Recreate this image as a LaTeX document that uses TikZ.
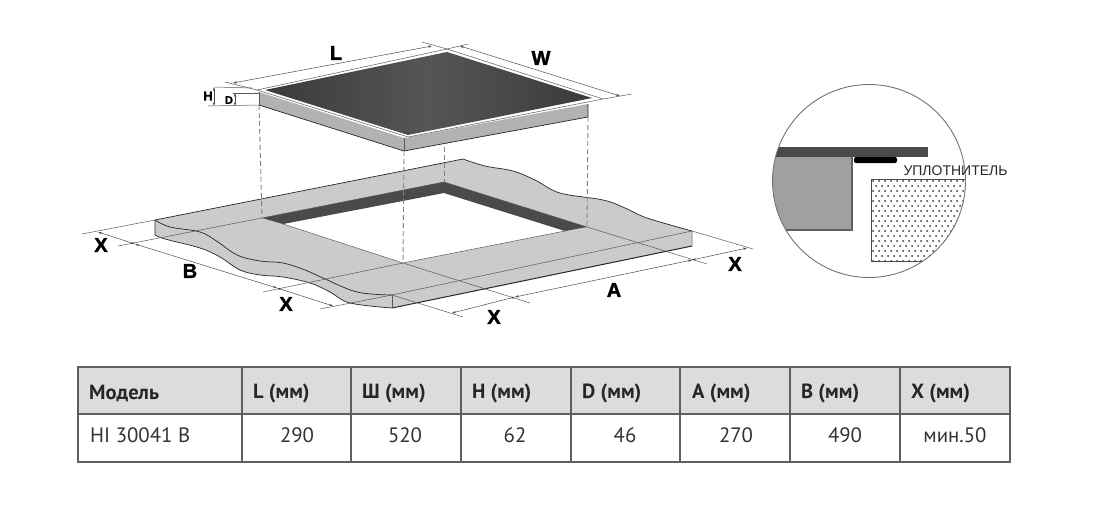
\documentclass[tikz,border=0pt]{standalone}
\usepackage{fontspec}
\setmainfont{PT Sans}
\newfontfamily\drawfont{Liberation Sans}
\newfontfamily\heavyfont[BoldFeatures={FakeBold=1.6}]{Liberation Sans}
\usetikzlibrary{arrows.meta}
\definecolor{glass}{HTML}{3A3A3A}
\definecolor{glassmid}{HTML}{555555}
\definecolor{slab}{HTML}{CBCBCB}
\definecolor{body}{HTML}{B2B2B2}
\definecolor{band}{HTML}{4A4A4A}
\definecolor{rule}{HTML}{5F5F5F}
\definecolor{head}{HTML}{DADDDC}
\tikzset{
edge/.style={draw=black!85, line width=.7pt},
thin edge/.style={draw=black!65, line width=.5pt},
dimline/.style={draw=black!70, line width=.5pt, {Stealth[length=4pt,width=2.4pt]}-{Stealth[length=4pt,width=2.4pt]}},
guide/.style={draw=black!50, line width=.9pt, dash pattern=on 5pt off 3pt},
letter/.style={font=\heavyfont\bfseries\fontsize{20}{20}\selectfont, inner sep=0pt},
small letter/.style={font=\heavyfont\bfseries\fontsize{13}{13}\selectfont, inner sep=0pt},
headcell/.style={font=\bfseries\fontsize{20.5}{20.5}\selectfont, text=black!85, anchor=west, inner sep=0pt},
datacell/.style={font=\fontsize{20.8}{20.8}\selectfont, text=black!80, inner sep=0pt}
}

\begin{document}
\begin{tikzpicture}[x=1pt, y=-1pt]
	\useasboundingbox (0,0) rectangle (1113,527);
	% hob corners
	\coordinate (gl) at (257,90);
	\coordinate (gt) at (447,49);
	\coordinate (gr) at (603,99);
	\coordinate (gb) at (408,137);
	% hole corners
	\coordinate (hl) at (262,218);
	\coordinate (ht) at (444,182);
	\coordinate (hr) at (587,227);
	\coordinate (hb) at (403,263);
	\coordinate (il) at (283,224);
	\coordinate (it) at (444,193);
	\coordinate (ir) at (565,231);
	% slab corners
	\coordinate (sl) at (155,220);
	\coordinate (st) at (463,159);
	\coordinate (sr) at (692,231);
	\coordinate (sf) at (392,295);
	\coordinate (sfl) at (392,308);
	\coordinate (srl) at (692,246);
	\coordinate (sll) at (155,235);

	% slab
	\fill[slab] (sl) -- (st)
		-- plot[smooth, tension=.6] coordinates {(463,159) (485,166) (513,171) (535,180) (560,193) (603,200) (625,208) (647,218) (692,231)}
		-- (srl) -- (sfl)
		-- plot[smooth, tension=.6] coordinates {(392,308) (350,303) (330,292) (310,283) (283,277) (260,275) (240,270) (220,257) (200,248) (165,239) (155,235)}
		-- cycle;
	\draw[edge] plot[smooth, tension=.6] coordinates {(155,220) (170,227) (200,232) (218,242) (237,255) (260,261) (283,263) (305,270) (323,278) (357,292) (392,295)};
	\draw[edge] plot[smooth, tension=.6] coordinates {(155,235) (165,239) (200,248) (220,257) (240,270) (260,275) (283,277) (310,283) (330,292) (350,303) (392,308)};
	\draw[edge] plot[smooth, tension=.6] coordinates {(463,159) (485,166) (513,171) (535,180) (560,193) (603,200) (625,208) (647,218) (692,231)};
	\draw[edge] (sll) -- (sl) -- (st);
	\draw[thin edge] (sf) -- (sr) -- (srl);
	\draw[edge, line width=1pt] (sfl) -- (srl);
	\draw[thin edge] (sf) -- (sfl);

	% hole
	\fill[white] (il) -- (it) -- (ir) -- (hb) -- cycle;
	\fill[band] (hl) -- (ht) -- (hr) -- (ir) -- (it) -- (il) -- cycle;
	\draw[thin edge] (il) -- (hb) -- (ir);
	\draw[thin edge] (hl) -- (ht) -- (hr);

	% hob
	\coordinate (bl) at (259,92);
	\coordinate (bb) at (404,138);
	\coordinate (br) at (588,104);
	\coordinate (bll) at (259,105);
	\coordinate (bbl) at (404,151);
	\coordinate (brl) at (588,117);
	\fill[body] (bl) -- (bb) -- (br) -- (brl) -- (bbl) -- (bll) -- cycle;
	\draw[edge] (bll) -- (bbl) -- (brl) -- (br);
	\draw[thin edge] (bl) -- (bll);
	\draw[thin edge] (bb) -- (bbl);
	\fill[white] (gl) -- (gt) -- (gr) -- (gb) -- cycle;
	\draw[thin edge] (gr) -- (gb) -- (gl) -- (gt) -- (gr);
	\path[left color=glass, right color=glass, middle color=glassmid] (265,90) -- (447,52) -- (592,98) -- (408,135) -- cycle;

	% dashed guides
	\draw[guide] (bll) -- (hl);
	\draw[guide] (bbl) -- (hb);
	\coordinate (gs) at (444,147);
	\draw[guide] (gs) -- (ht);
	\draw[guide] (brl) -- (hr);

	% witness lines
	\coordinate (wla) at (225,82);
	\coordinate (wlb) at (422,42);
	\coordinate (wlc) at (468,44);
	\coordinate (wld) at (632,94);
	\draw[thin edge] (wla) -- (gl);
	\draw[thin edge] (wlb) -- (gt) -- (wlc);
	\draw[thin edge] (gr) -- (wld);
	\coordinate (la) at (233,83);
	\coordinate (lb) at (432,46);
	\coordinate (wa) at (460,46);
	\coordinate (wb) at (620,96);
	\draw[dimline] (la) -- (lb);
	\draw[dimline] (wa) -- (wb);
	\coordinate (ha) at (214,87);
	\coordinate (hc) at (214,106);
	\coordinate (da) at (235,93);
	\coordinate (dc) at (235,106);
	\coordinate (hta) at (215,87);
	\coordinate (htb) at (252,88);
	\coordinate (dta) at (233,93);
	\coordinate (dtb) at (259,93);
	\coordinate (dba) at (208,106);
	\draw[thin edge] (hta) -- (htb);
	\draw[thin edge] (dta) -- (dtb);
	\draw[thin edge] (dba) -- (bll);
	\draw[dimline] (ha) -- (hc);
	\draw[dimline] (da) -- (dc);

	% slab extension lines
	\coordinate (xa) at (82,234);
	\coordinate (xb) at (118,246);
	\coordinate (xc) at (263,292);
	\coordinate (xd) at (320,309);
	\coordinate (xe) at (707,264);
	\coordinate (xf) at (530,303);
	\coordinate (xg) at (753,249);
	\coordinate (xh) at (463,317);
	\draw[thin edge] (xa) -- (sl);
	\draw[thin edge] (xb) -- (hl);
	\draw[thin edge] (xc) -- (hb);
	\draw[thin edge] (xd) -- (sf);
	\draw[thin edge] (hr) -- (xe);
	\draw[thin edge] (hb) -- (xf);
	\draw[thin edge] (sr) -- (xg);
	\draw[thin edge] (sf) -- (xh);

	% dimensions on the slab
	\coordinate (ba) at (98,232);
	\coordinate (bc) at (135,244);
	\coordinate (bd) at (277,288);
	\coordinate (be) at (333,306);
	\draw[dimline] (ba) -- (bc);
	\draw[dimline] (bc) -- (bd);
	\draw[dimline] (bd) -- (be);
	\coordinate (aa) at (452,313);
	\coordinate (ac) at (515,297);
	\coordinate (ad) at (692,260);
	\coordinate (ae) at (747,248);
	\draw[dimline] (aa) -- (ac);
	\draw[dimline] (ac) -- (ad);
	\draw[dimline] (ad) -- (ae);

	% letters
	\node[letter] (labelL) at (336,53) {L};
	\node[letter] (labelW) at (541,58) {W};
	\node[small letter] (labelH) at (208,96) {H};
	\node[small letter, font=\heavyfont\bfseries\fontsize{11}{11}\selectfont] (labelD) at (229,100) {D};
	\node[letter] (labelXa) at (101,245) {X};
	\node[letter] (labelB) at (190,271) {B};
	\node[letter] (labelXb) at (286,304) {X};
	\node[letter] (labelXc) at (494,317) {X};
	\node[letter] (labelA) at (614,290) {A};
	\node[letter] (labelXd) at (735,264) {X};

	% detail circle
	\begin{scope}
		\clip (869,181) circle (96.5);
		\fill[body!90!black] (772,157) rectangle (852,230);
		\draw[rule, line width=1.2pt] (770,230) -- (852,230) -- (852,157);
		\fill[band] (770,147) rectangle (928,157);
		\begin{scope}
			\clip (871,179) rectangle (970,261);
			\foreach \row in {0,...,16} {
				\foreach \col in {0,...,17} {
					\fill[black!80] ({873+\col*6+mod(\row,2)*3},{181+\row*5}) circle (1);
				}
			}
		\end{scope}
		\draw[black!70, line width=.5pt] (970,179) -- (871,179) -- (871,261) -- (970,261);
	\end{scope}
	\fill[black, rounded corners=2pt] (854,157) rectangle (897,163);
	\draw[black!55, line width=.9pt] (869,181) circle (96.5);
	\node[font=\drawfont\fontsize{14}{14}\selectfont, text=black!85, inner sep=0pt] (seal) at (955.5,171) {УПЛОТНИТЕЛЬ};

	% table
	\fill[head] (78,367) rectangle (1010,414);
	\draw[rule, line width=1.1pt] (78,367) rectangle (1010,462);
	\draw[rule, line width=1.1pt] (78,414) -- (1010,414);
	\foreach \x in {242,351,461,571,680,790,900} {
		\draw[rule, line width=1.1pt] (\x,367) -- (\x,462);
	}
	\node[headcell] (hmodel) at (89,393) {Модель};
	\node[headcell] (hL) at (253,393) {L (мм)};
	\node[headcell] (hW) at (362,393) {Ш (мм)};
	\node[headcell] (hH) at (472,393) {H (мм)};
	\node[headcell] (hD) at (582,393) {D (мм)};
	\node[headcell] (hA) at (692,393) {A (мм)};
	\node[headcell] (hB) at (801,393) {B (мм)};
	\node[headcell] (hX) at (911,393) {X (мм)};
	\node[datacell, anchor=west] (dmodel) at (90,435) {HI 30041 B};
	\node[datacell] (dL) at (297,435) {290};
	\node[datacell] (dW) at (405,435) {520};
	\node[datacell] (dH) at (515,435) {62};
	\node[datacell] (dD) at (625,435) {46};
	\node[datacell] (dA) at (736,435) {270};
	\node[datacell] (dB) at (845,435) {490};
	\node[datacell] (dX) at (955,435) {мин.50};
\end{tikzpicture}
\end{document}
